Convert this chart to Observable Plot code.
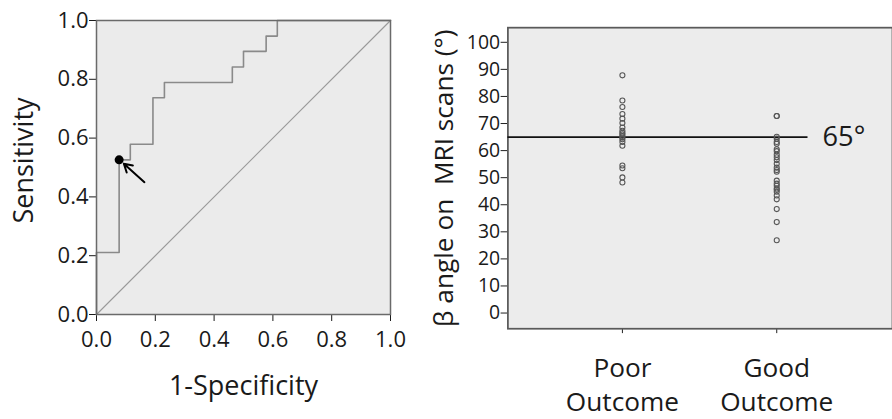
<!DOCTYPE html>
<html>
<head>
<meta charset="utf-8">
<script src="https://cdn.jsdelivr.net/npm/d3@7"></script>
<script src="https://cdn.jsdelivr.net/npm/@observablehq/plot@0.6"></script>
<style>
  html, body { margin: 0; padding: 0; background: #fff; }
  #wrap { position: relative; width: 892px; height: 419px; overflow: hidden; }
  #roc { position: absolute; left: 0; top: 0; }
  #scat { position: absolute; left: 420px; top: 0; }
  svg { overflow: visible; }
</style>
</head>
<body>
<div id="wrap"><div id="roc"></div><div id="scat"></div></div>
<script>
// ---- ROC curve data (corner points, step-after) ----
const rocFpr = [0, 0, 0.077, 0.115, 0.192, 0.231, 0.462, 0.500, 0.577, 0.615, 1];
const rocTpr = [0, 0.211, 0.526, 0.579, 0.737, 0.789, 0.842, 0.895, 0.947, 1.0, 1.0];
const diagonal = [0, 1];
const cutoffPoint = [{fpr: 0.077, tpr: 0.526}];
const arrowAnno = [{x1: 0.163, y1: 0.450, x2: 0.093, y2: 0.513}];
const rocTicks = [0, 0.2, 0.4, 0.6, 0.8, 1.0];

// ---- beta angle data ----
const groupLabels = ["Poor\nOutcome", "Good\nOutcome"];
const poorValues = [87.8, 78.5, 76.1, 73.5, 71.8, 70.2, 68.5, 67.3, 66.6, 66.0, 65.4, 64.8, 64.2, 63.2, 61.8, 54.5, 53.5, 50.1, 48.2];
const goodValues = [72.8, 72.8, 65.1, 64.4, 63.2, 62.5, 60.5, 59.8, 58.5, 57.5, 56.5, 55.1, 53.7, 52.8, 52.2, 48.9, 47.8, 47.0, 46.0, 45.5, 44.8, 43.4, 42.0, 38.4, 33.6, 26.9];
const betaTicks = [0, 10, 20, 30, 40, 50, 60, 70, 80, 90, 100];
const cutoffAngle = [65];
const cutoffLabel = "65°";

const FONT = "'Open Sans', 'Noto Sans', sans-serif";

const roc = rocFpr.map((f, i) => ({fpr: f, tpr: rocTpr[i]}));

const rocPlot = Plot.plot({
  width: 420, height: 419,
  marginLeft: 96, marginRight: 30, marginTop: 20, marginBottom: 105,
  style: {fontFamily: FONT, fontSize: "22px", color: "#1a1a1a", background: "transparent"},
  x: {domain: [0, 1], ticks: rocTicks, tickFormat: d3.format(".1f"), label: null, tickSize: 7, tickPadding: 10},
  y: {domain: [0, 1], ticks: rocTicks, tickFormat: d3.format(".1f"), label: null, tickSize: 7, tickPadding: 1},
  marks: [
    Plot.frame({fill: "#ebebeb", stroke: null}),
    Plot.line(diagonal.map(d => ({x: d, y: d})), {x: "x", y: "y", stroke: "#9a9a9a", strokeWidth: 1.2}),
    Plot.line(roc, {x: "fpr", y: "tpr", curve: "step-after", stroke: "#8a8a8a", strokeWidth: 1.6}),
    Plot.frame({stroke: "#6a6a6a", strokeWidth: 1.5}),
    Plot.dot(cutoffPoint, {x: "fpr", y: "tpr", r: 4.5, fill: "#000", stroke: null}),
    Plot.arrow(arrowAnno, {x1: "x1", y1: "y1", x2: "x2", y2: "y2", stroke: "#000", strokeWidth: 2, headLength: 9}),
    Plot.text(["1-Specificity"], {frameAnchor: "bottom", dy: 80, lineAnchor: "bottom", fontSize: 27, fill: "#1a1a1a"}),
    Plot.text(["Sensitivity"], {frameAnchor: "left", textAnchor: "middle", rotate: -90, dx: -72, dy: -7, fontSize: 27, fill: "#1a1a1a"})
  ]
});
document.getElementById("roc").appendChild(rocPlot);

const pts = [
  ...poorValues.map(v => ({g: 1, v})),
  ...goodValues.map(v => ({g: 2, v}))
];
const groups = groupLabels.map((label, i) => ({g: i + 1, label}));

const scat = Plot.plot({
  width: 486, height: 419,
  marginLeft: 90, marginRight: 0, marginTop: 28, marginBottom: 81,
  style: {fontFamily: FONT, fontSize: "20px", color: "#1a1a1a", background: "transparent"},
  x: {domain: [0.258, 2.75], ticks: [1, 2], tickFormat: () => "", label: null, tickSize: 5},
  y: {domain: [-5.8, 105.4], ticks: betaTicks, label: null, tickSize: 7, tickPadding: 1},
  marks: [
    Plot.frame({fill: "#ececec", stroke: "#5a5a5a", strokeWidth: 1.8}),
    Plot.ruleY(cutoffAngle, {stroke: "#111", strokeWidth: 1.8, insetRight: 87}),
    Plot.text(cutoffAngle, {y: d => d, frameAnchor: "right", textAnchor: "start", dx: -72, text: () => cutoffLabel, fontSize: 28, fill: "#1a1a1a"}),
    Plot.dot(pts, {x: "g", y: "v", r: 2.6, stroke: "#555", strokeWidth: 1.1, fill: "none"}),
    Plot.text(groups, {x: "g", text: "label", frameAnchor: "bottom", lineAnchor: "top", dy: 25, fontSize: 27, lineHeight: 1.3, fill: "#1a1a1a"}),
    Plot.text(["β angle on \u00a0MRI scans (°)"], {frameAnchor: "left", textAnchor: "middle", rotate: -90, dx: -65, fontSize: 27, fill: "#1a1a1a"})
  ]
});
document.getElementById("scat").appendChild(scat);
</script>
</body>
</html>
